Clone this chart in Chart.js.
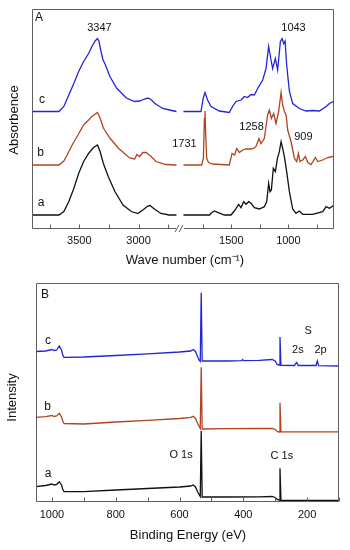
<!DOCTYPE html>
<html>
<head>
<meta charset="utf-8">
<script src="https://cdn.jsdelivr.net/npm/chart.js@4.4.1/dist/chart.umd.min.js"></script>
<style>
  html, body { margin: 0; padding: 0; background: #fff; }
  .panel { position: absolute; left: 0; width: 350px; }
  #panelA { top: 0; height: 272px; }
  #panelB { top: 272px; height: 278px; }
</style>
</head>
<body>
<div class="panel" id="panelA"><canvas id="ftir"></canvas></div>
<div class="panel" id="panelB"><canvas id="xps"></canvas></div>
<script>
// FTIR spectra, [wavenumber cm-1, absorbance a.u. incl. offset], split at the axis break
const FTIR_A_HIGH = [[3900,0.135],[3672,0.135],[3631,0.17],[3589,0.27],[3547,0.40],[3506,0.55],[3464,0.67],[3422,0.75],[3381,0.81],[3347,0.835],[3325,0.77],[3297,0.65],[3256,0.52],[3200,0.37],[3131,0.235],[3061,0.17],[3006,0.15],[2964,0.185],[2922,0.225],[2903,0.23],[2867,0.195],[2811,0.15],[2742,0.135],[2680,0.135]];
const FTIR_B_HIGH = [[3900,0.635],[3672,0.635],[3631,0.675],[3603,0.735],[3561,0.835],[3519,0.92],[3464,1.035],[3422,1.085],[3394,1.12],[3347,1.16],[3325,1.105],[3297,1.005],[3242,0.905],[3172,0.805],[3075,0.705],[3033,0.695],[3014,0.74],[2992,0.72],[2964,0.76],[2936,0.76],[2894,0.72],[2853,0.67],[2769,0.64],[2680,0.635]];
const FTIR_C_HIGH = [[3900,1.17],[3672,1.17],[3631,1.22],[3589,1.335],[3547,1.45],[3506,1.57],[3464,1.67],[3422,1.75],[3394,1.82],[3367,1.875],[3347,1.90],[3335,1.875],[3320,1.785],[3300,1.685],[3283,1.645],[3242,1.52],[3186,1.405],[3103,1.305],[3033,1.27],[2992,1.275],[2950,1.295],[2920,1.305],[2890,1.285],[2867,1.255],[2797,1.20],[2720,1.18],[2680,1.17]];

const FTIR_A_LOW = [[1920,0.135],[1690,0.135],[1678,0.152],[1649,0.175],[1620,0.162],[1561,0.135],[1503,0.135],[1474,0.175],[1436,0.242],[1415,0.208],[1392,0.268],[1371,0.242],[1348,0.268],[1327,0.252],[1298,0.208],[1254,0.195],[1211,0.218],[1190,0.268],[1173,0.452],[1161,0.368],[1149,0.385],[1132,0.602],[1114,0.568],[1096,0.702],[1079,0.768],[1064,0.868],[1050,0.802],[1035,0.718],[1015,0.568],[991,0.368],[962,0.195],[933,0.152],[904,0.175],[874,0.142],[787,0.142],[699,0.168],[669,0.218],[640,0.202],[605,0.228],[600,0.228]];
const FTIR_B_LOW = [[1920,0.635],[1760,0.635],[1745,0.70],[1736,1.10],[1731,1.175],[1725,0.95],[1716,0.70],[1700,0.66],[1664,0.645],[1518,0.635],[1494,0.75],[1471,0.735],[1453,0.80],[1430,0.76],[1401,0.785],[1371,0.795],[1327,0.795],[1298,0.805],[1284,0.82],[1258,0.90],[1240,0.85],[1211,0.90],[1182,1.135],[1167,1.185],[1149,1.10],[1129,1.15],[1108,1.05],[1085,1.17],[1064,1.36],[1050,1.235],[1035,1.17],[1020,1.135],[1006,0.985],[977,0.87],[947,0.70],[927,0.67],[912,0.75],[898,0.67],[874,0.685],[851,0.72],[830,0.66],[801,0.64],[763,0.71],[743,0.67],[699,0.685],[655,0.71],[611,0.72],[600,0.72]];
const FTIR_C_LOW = [[1920,1.17],[1766,1.17],[1746,1.305],[1731,1.36],[1708,1.285],[1678,1.22],[1605,1.175],[1518,1.16],[1489,1.22],[1459,1.27],[1415,1.285],[1386,1.32],[1357,1.31],[1327,1.34],[1298,1.335],[1269,1.40],[1225,1.485],[1196,1.60],[1173,1.82],[1152,1.685],[1138,1.60],[1114,1.70],[1094,1.585],[1070,1.87],[1055,1.90],[1041,1.85],[1029,1.875],[1015,1.635],[991,1.37],[962,1.25],[904,1.20],[845,1.175],[787,1.18],[728,1.175],[669,1.22],[640,1.25],[605,1.27],[600,1.27]];

// XPS survey spectra, [binding energy eV, intensity a.u. incl. offset]
const XPS_A = [[1050,0.153],[1020,0.165],[1000,0.18],[993,0.17],[985,0.177],[977,0.203],[970,0.17],[966,0.125],[962,0.103],[900,0.103],[800,0.12],[700,0.135],[600,0.15],[565,0.16],[557,0.17],[550,0.15],[543,0.10],[538,0.07],[535,0.055],[532,0.71],[529,0.05],[450,0.05],[350,0.052],[310,0.055],[300,0.045],[294,0.025],[288,0.02],[285,0.337],[282,0.017],[100,0.017]];
const XPS_B = [[1050,0.847],[1020,0.853],[1000,0.865],[993,0.855],[985,0.86],[977,0.887],[970,0.85],[966,0.81],[962,0.785],[900,0.78],[800,0.80],[700,0.817],[600,0.835],[565,0.847],[557,0.857],[550,0.835],[543,0.785],[538,0.753],[535,0.735],[532,1.347],[529,0.73],[450,0.733],[350,0.735],[310,0.737],[300,0.725],[294,0.705],[288,0.70],[285,0.993],[282,0.702],[100,0.702]];
const XPS_C = [[1050,1.505],[1020,1.51],[1000,1.525],[993,1.515],[985,1.52],[977,1.56],[970,1.52],[966,1.47],[962,1.447],[900,1.45],[800,1.465],[700,1.482],[600,1.50],[565,1.51],[557,1.525],[550,1.505],[543,1.45],[538,1.415],[535,1.405],[532,2.093],[529,1.41],[450,1.41],[405,1.413],[402,1.425],[399,1.413],[350,1.417],[310,1.425],[300,1.41],[294,1.375],[288,1.37],[285,1.65],[282,1.367],[240,1.365],[233,1.395],[228,1.365],[172,1.365],[168,1.41],[164,1.363],[100,1.36]];

// tick positions
const WN_TICKS_HIGH = [2750, 3000, 3250, 3500, 3750];
const WN_TICKS_LOW = [750, 1000, 1250, 1500, 1750];
const BE_TICKS = [100, 200, 300, 400, 500, 600, 700, 800, 900, 1000];

const FONT = '"Liberation Sans", Arial, sans-serif';
const INK = '#111111';
const FRAME = '#5f5f5f';
const COLORS = { a: '#111111', b: '#b0451f', c: '#2424d8' };

const toXY = pts => pts.map(([x, y]) => ({ x, y }));

function trace(pts, color, xAxisID) {
  return { data: toXY(pts), xAxisID, yAxisID: 'y', borderColor: color, borderWidth: 1.3,
           pointRadius: 0, tension: 0, fill: false };
}

function xAxis(min, max, ticks, every, extra) {
  return Object.assign({
    type: 'linear', position: 'bottom', min, max, reverse: true,
    grid: { display: false, drawTicks: false },
    border: { display: false },
    afterBuildTicks: s => { s.ticks = ticks.map(v => ({ value: v })); },
    ticks: { autoSkip: false, maxRotation: 0, padding: 6, color: INK,
             font: { family: FONT, size: 11 },
             callback: v => (v % every === 0 ? String(v) : '') },
  }, extra);
}

// frame, inward ticks, axis break, labels
const panelPlugin = {
  id: 'panel',
  afterDatasetsDraw(chart, args, o) {
    const { ctx, chartArea: a } = chart;
    const L = Math.round(a.left) + 0.5, R = Math.round(a.right) - 0.5;
    const T = Math.round(a.top) + 0.5, B = Math.round(a.bottom) - 0.5;
    ctx.save();
    ctx.strokeStyle = FRAME;
    ctx.lineWidth = 1;
    ctx.beginPath();
    ctx.moveTo(L, B); ctx.lineTo(L, T); ctx.lineTo(R, T); ctx.lineTo(R, B);
    if (o.breakAxis) {
      const bx = Math.round(chart.scales[o.breakAxis].left);
      ctx.lineTo(bx + 4, B);
      ctx.moveTo(bx - 4, B); ctx.lineTo(L, B);
      ctx.moveTo(bx - 5, B + 3.5); ctx.lineTo(bx - 1, B - 3.5);
      ctx.moveTo(bx - 1, B + 3.5); ctx.lineTo(bx + 3, B - 3.5);
    } else {
      ctx.lineTo(L, B);
    }
    o.xAxes.forEach(id => {
      const s = chart.scales[id];
      s.ticks.forEach(t => {
        const px = Math.round(s.getPixelForValue(t.value)) + 0.5;
        ctx.moveTo(px, B); ctx.lineTo(px, B - 4);
      });
    });
    ctx.stroke();

    ctx.fillStyle = INK;
    ctx.textAlign = 'center';
    ctx.textBaseline = 'middle';
    o.notes.forEach(n => {
      ctx.font = n.size + 'px ' + FONT;
      ctx.fillText(n.text, chart.scales[n.axis].getPixelForValue(n.x), chart.scales.y.getPixelForValue(n.y));
    });
    o.titles.forEach(t => {
      ctx.save();
      ctx.font = '13px ' + FONT;
      ctx.translate(t.x, t.y);
      if (t.rot) ctx.rotate(-Math.PI / 2);
      ctx.fillText(t.text, 0, 0);
      ctx.restore();
    });
    ctx.restore();
  }
};

const common = {
  responsive: true,
  maintainAspectRatio: false,
  animation: false,
  devicePixelRatio: 1,
  parsing: true,
  plugins: { legend: { display: false }, tooltip: { enabled: false } },
};

new Chart(document.getElementById('ftir'), {
  type: 'line',
  data: {
    datasets: [
      trace(FTIR_A_HIGH, COLORS.a, 'xHi'), trace(FTIR_B_HIGH, COLORS.b, 'xHi'), trace(FTIR_C_HIGH, COLORS.c, 'xHi'),
      trace(FTIR_A_LOW, COLORS.a, 'xLo'), trace(FTIR_B_LOW, COLORS.b, 'xLo'), trace(FTIR_C_LOW, COLORS.c, 'xLo'),
    ],
  },
  options: {
    ...common,
    layout: { padding: { left: 32, right: 16, top: 9, bottom: 0 } },
    scales: {
      xHi: xAxis(2650, 3900, WN_TICKS_HIGH, 500, { stack: 'wn', stackWeight: 148, afterFit: s => { s.height = 43.5; } }),
      xLo: xAxis(600, 1950, WN_TICKS_LOW, 500, { stack: 'wn', stackWeight: 154, afterFit: s => { s.height = 43.5; } }),
      y: { display: false, min: 0, max: 2.195 },
    },
    plugins: {
      ...common.plugins,
      panel: {
        xAxes: ['xHi', 'xLo'],
        breakAxis: 'xLo',
        notes: [
          { text: 'A', axis: 'xHi', x: 3841, y: 2.105, size: 12 },
          { text: '3347', axis: 'xHi', x: 3330, y: 2.01, size: 11 },
          { text: 'c', axis: 'xHi', x: 3816, y: 1.285, size: 12 },
          { text: 'b', axis: 'xHi', x: 3828, y: 0.755, size: 12 },
          { text: 'a', axis: 'xHi', x: 3824, y: 0.255, size: 12 },
          { text: '1043', axis: 'xLo', x: 955, y: 2.005, size: 11 },
          { text: '1731', axis: 'xLo', x: 1911, y: 0.845, size: 11 },
          { text: '1258', axis: 'xLo', x: 1323, y: 1.015, size: 11 },
          { text: '909', axis: 'xLo', x: 868, y: 0.915, size: 11 },
        ],
        titles: [
          { text: 'Wave number (cm\u207B\u00B9)', x: 185, y: 260 },
          { text: 'Absorbence', x: 14, y: 120, rot: true },
        ],
      },
    },
  },
  plugins: [panelPlugin],
});

new Chart(document.getElementById('xps'), {
  type: 'line',
  data: {
    datasets: [trace(XPS_A, COLORS.a, 'x'), trace(XPS_B, COLORS.b, 'x'), trace(XPS_C, COLORS.c, 'x')],
  },
  options: {
    ...common,
    layout: { padding: { left: 36, right: 11, top: 11, bottom: 0 } },
    scales: {
      x: xAxis(100, 1050, BE_TICKS, 200, { afterFit: s => { s.height = 48; } }),
      y: { display: false, min: 0, max: 2.19 },
    },
    plugins: {
      ...common.plugins,
      panel: {
        xAxes: ['x'],
        notes: [
          { text: 'B', axis: 'x', x: 1022, y: 2.07, size: 12 },
          { text: 'c', axis: 'x', x: 1012, y: 1.61, size: 12 },
          { text: 'b', axis: 'x', x: 1014, y: 0.95, size: 12 },
          { text: 'a', axis: 'x', x: 1012, y: 0.28, size: 12 },
          { text: 'O 1s', axis: 'x', x: 595, y: 0.47, size: 11 },
          { text: 'C 1s', axis: 'x', x: 279, y: 0.46, size: 11 },
          { text: 'S', axis: 'x', x: 197, y: 1.71, size: 11 },
          { text: '2s', axis: 'x', x: 229, y: 1.52, size: 11 },
          { text: '2p', axis: 'x', x: 158, y: 1.52, size: 11 },
        ],
        titles: [
          { text: 'Binding Energy (eV)', x: 188, y: 263 },
          { text: 'Intensity', x: 12, y: 125.5, rot: true },
        ],
      },
    },
  },
  plugins: [panelPlugin],
});
</script>
</body>
</html>
